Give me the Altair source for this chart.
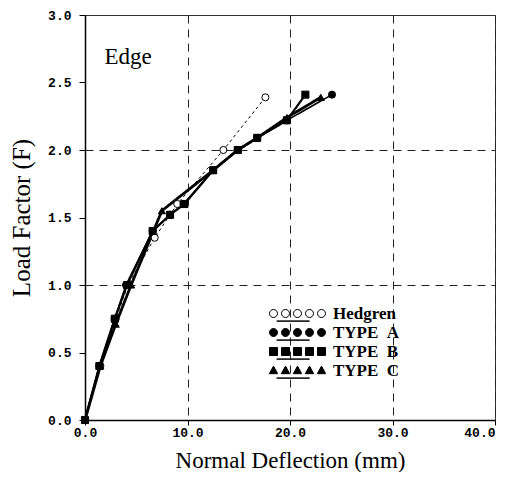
import altair as alt
import pandas as pd

series_names = ["Hedgren", "TYPE A", "TYPE B", "TYPE C"]

hedgren_x = [0, 1.5, 3.0, 4.2, 6.8, 9.0, 13.5, 17.6]
hedgren_y = [0, 0.40, 0.75, 1.0, 1.35, 1.60, 2.0, 2.39]
typeA_x = [0, 1.4, 2.9, 4.0, 6.6, 8.3, 9.6, 12.5, 14.9, 16.8, 19.7, 24.1]
typeA_y = [0, 0.40, 0.75, 1.0, 1.40, 1.52, 1.60, 1.85, 2.0, 2.09, 2.22, 2.41]
typeB_x = [0, 1.4, 2.9, 4.1, 6.6, 8.3, 9.7, 12.5, 14.9, 16.8, 19.7, 21.5]
typeB_y = [0, 0.40, 0.75, 1.0, 1.40, 1.52, 1.60, 1.85, 2.0, 2.09, 2.22, 2.41]
typeC_x = [0, 1.5, 3.0, 4.5, 7.5, 12.5, 14.9, 16.8, 19.7, 23.0]
typeC_y = [0, 0.40, 0.71, 1.0, 1.55, 1.85, 2.0, 2.09, 2.24, 2.39]

x_ticks = [0, 10, 20, 30, 40]
y_ticks = [0, 0.5, 1.0, 1.5, 2.0, 2.5, 3.0]

annot_text = ["Edge"]
annot_x = [4.2]
annot_y = [2.69]

rows = []
for name, xs, ys in zip(series_names, [hedgren_x, typeA_x, typeB_x, typeC_x],
                        [hedgren_y, typeA_y, typeB_y, typeC_y]):
    for i, (xv, yv) in enumerate(zip(xs, ys)):
        rows.append({"series": name, "x": xv, "y": yv, "order": i})
df = pd.DataFrame(rows)
annot = pd.DataFrame({"text": annot_text, "x": annot_x, "y": annot_y})

xscale = alt.Scale(domain=[0, 40], nice=False, zero=False)
yscale = alt.Scale(domain=[0, 3], nice=False, zero=False)

xaxis = alt.Axis(values=x_ticks, format=".1f", title="Normal Deflection (mm)",
                 grid=True, gridDash=[8, 6], gridColor="#222", gridWidth=1,
                 tickSize=5, labelPadding=1, titlePadding=10, labelFlush=False,
                 labelAlign={"expr": "datum.value >= 40 ? 'right' : 'center'"},
                 titleFontSize=23)
yaxis = alt.Axis(values=y_ticks, format=".1f", title="Load Factor (F)",
                 grid=True, gridDash=[8, 6], gridColor="#222", gridWidth=1,
                 gridOpacity={"condition": {"test": "datum.value % 1 === 0 && datum.value > 0 && datum.value < 3", "value": 1}, "value": 0},
                 tickSize=6, labelPadding=8, titlePadding=13, labelFlush=False,
                 titleFontSize=25)

lines = alt.Chart(df).mark_line(color="black").encode(
    x=alt.X("x:Q", scale=xscale, axis=xaxis),
    y=alt.Y("y:Q", scale=yscale, axis=yaxis),
    detail="series:N",
    order="order:Q",
    strokeWidth=alt.StrokeWidth("series:N", scale=alt.Scale(domain=series_names, range=[1, 2.8, 1, 1]), legend=None),
    strokeDash=alt.StrokeDash("series:N", scale=alt.Scale(domain=series_names, range=[[3, 3], [1, 0], [1, 0], [1, 0]]), legend=None),
)

points = alt.Chart(df).mark_point(opacity=1, stroke="black", strokeWidth=1, size=50).encode(
    x="x:Q",
    y="y:Q",
    shape=alt.Shape("series:N", scale=alt.Scale(domain=series_names, range=["circle", "circle", "square", "triangle-up"]), legend=None),
    fill=alt.Fill("series:N", scale=alt.Scale(domain=series_names, range=["white", "black", "black", "black"]), legend=None),
)


def five(shape):
    cs = [-3.0, -1.5, 0.0, 1.5, 3.0]
    r = 0.5
    parts = []
    for c in cs:
        if shape == "circle":
            parts.append(f"M{c - r},0 a{r},{r} 0 1,0 {2 * r},0 a{r},{r} 0 1,0 {-2 * r},0 Z")
        elif shape == "square":
            parts.append(f"M{c - r},{-r} L{c + r},{-r} L{c + r},{r} L{c - r},{r} Z")
        else:
            parts.append(f"M{c},{-r * 1.1} L{c + r * 1.05},{r * 0.8} L{c - r * 1.05},{r * 0.8} Z")
    parts.append("M-2.6,0.95 L1.5,0.95 L-2.6,0.95 Z")
    return " ".join(parts)


legend_layer = alt.Chart(df).transform_filter("false").mark_point(opacity=1, stroke="black", strokeWidth=1).encode(
    x="x:Q",
    y="y:Q",
    shape=alt.Shape("series:N", title=None,
                    scale=alt.Scale(domain=series_names, range=[five("circle"), five("circle"), five("square"), five("tri")]),
                    legend=alt.Legend(labelExpr="replace(datum.label, 'TYPE ', 'TYPE\u00a0\u00a0')")),
    fill=alt.Fill("series:N", title=None,
                  scale=alt.Scale(domain=series_names, range=["white", "black", "black", "black"]),
                  legend=alt.Legend(labelExpr="replace(datum.label, 'TYPE ', 'TYPE\u00a0\u00a0')")),
)

text = alt.Chart(annot).mark_text(font="Liberation Serif", fontSize=23, color="black").encode(
    x="x:Q", y="y:Q", text="text:N"
)

chart = alt.layer(lines, points, legend_layer, text).resolve_scale(
    shape="independent", fill="independent"
).properties(
    width=410, height=405,
    autosize=alt.AutoSizeParams(type="none"),
    padding={"left": 77, "top": 7, "right": 4, "bottom": 52},
).configure_view(
    stroke="#333", strokeWidth=1
).configure_axis(
    labelFont="Liberation Mono", labelFontWeight="bold", labelFontSize=13, labelColor="black",
    titleFont="Liberation Serif", titleFontWeight="normal", titleColor="black",
    domainColor="black", domainWidth=1.5, tickColor="black", tickWidth=1,
).configure_legend(
    orient="none", legendX=204, legendY=290, symbolSize=256, padding=0,
    labelFont="Liberation Serif", labelFontWeight="bold", labelFontSize=17, labelColor="black",
    symbolStrokeWidth=1, rowPadding=-5, labelOffset=27, labelLimit=400,
)

chart.save("out.html", embed_options={"renderer": "svg", "actions": False})
